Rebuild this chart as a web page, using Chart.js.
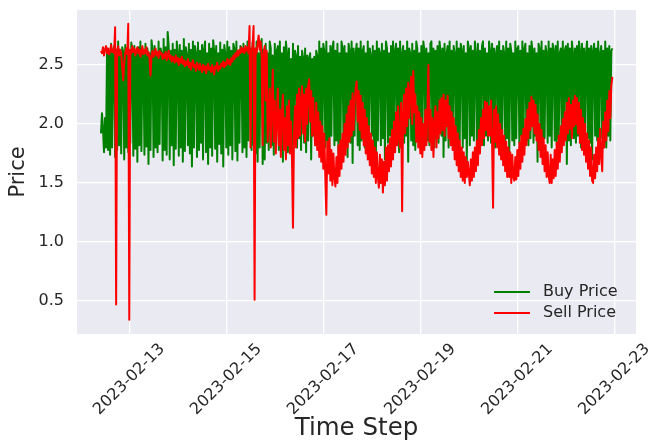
<!DOCTYPE html>
<html>
<head>
<meta charset="utf-8">
<script src="https://cdn.jsdelivr.net/npm/chart.js@4.4.1/dist/chart.umd.min.js"></script>
<style>
  html, body { margin: 0; background: #fff; }
  #stage { width: 652px; height: 441px; }
</style>
</head>
<body>
<div id="stage"><canvas id="chart"></canvas></div>
<script>
// half-hourly samples starting at firstStep
const firstStep = '2023-02-12T10:00:00Z';
const stepMinutes = 30;
const buyPrice = [
  1.92, 2.09, 1.95, 1.76, 2.05, 1.80, 2.64, 1.78, 2.62, 1.74, 2.68, 1.80,
  2.60, 2.66, 1.72, 2.63, 1.78, 2.70, 1.82, 2.58, 1.75, 2.65, 2.61, 1.70,
  2.67, 1.80, 2.64, 1.76, 2.60, 1.84, 2.69, 2.62, 1.73, 2.66, 1.79, 2.61,
  1.68, 2.65, 1.82, 2.70, 1.77, 2.63, 2.58, 1.74, 2.68, 1.81, 2.64, 1.66,
  2.60, 1.78, 2.71, 2.62, 1.72, 2.66, 1.80, 2.59, 1.76, 2.70, 1.83, 2.64,
  2.60, 1.69, 2.72, 1.78, 2.65, 1.74, 2.78, 2.66, 1.70, 2.62, 1.82, 2.68,
  1.65, 2.63, 1.79, 2.70, 2.60, 1.73, 2.67, 1.80, 2.62, 1.68, 2.72, 1.77,
  2.65, 2.59, 1.82, 2.68, 1.75, 2.63, 1.64, 2.70, 1.80, 2.66, 2.60, 1.72,
  2.69, 1.78, 2.62, 1.84, 2.67, 1.70, 2.63, 2.70, 1.76, 2.60, 1.66, 2.68,
  1.80, 2.64, 1.73, 2.71, 2.62, 1.79, 2.66, 1.68, 2.60, 1.83, 2.69, 1.75,
  2.63, 1.64, 2.67, 2.60, 1.80, 2.70, 1.74, 2.65, 1.82, 2.62, 1.70, 2.68,
  2.64, 1.77, 2.70, 1.69, 2.61, 1.84, 2.66, 2.60, 1.76, 2.68, 1.80, 2.63,
  1.72, 2.70, 1.86, 2.65, 2.62, 1.78, 2.69, 1.82, 2.64, 1.75, 2.70, 1.68,
  2.60, 1.80, 2.66, 2.72, 1.66, 2.63, 1.70, 2.68, 1.84, 2.60, 1.78, 2.70,
  2.64, 1.82, 2.58, 1.74, 2.68, 1.86, 2.62, 2.66, 1.78, 2.70, 1.80, 2.60,
  1.68, 2.65, 1.84, 2.70, 2.60, 1.76, 2.64, 1.82, 2.55, 1.70, 2.68, 1.85,
  2.62, 2.58, 1.80, 2.66, 1.88, 2.57, 1.78, 2.62, 2.56, 1.84, 2.64, 1.76,
  2.58, 1.86, 2.56, 2.60, 1.70, 2.55, 1.90, 2.57, 1.82, 2.62, 2.58, 1.78,
  2.70, 1.84, 2.64, 1.70, 2.68, 2.62, 1.80, 2.70, 1.86, 2.60, 1.78, 2.66,
  1.90, 2.64, 2.70, 1.82, 2.62, 1.86, 2.68, 1.76, 2.60, 1.84, 2.70, 2.64,
  1.80, 2.66, 1.88, 2.60, 1.72, 2.68, 2.62, 1.84, 2.70, 1.67, 2.64, 1.90,
  2.60, 2.68, 1.82, 2.64, 1.78, 2.70, 1.86, 2.62, 2.66, 1.80, 2.60, 1.88,
  2.70, 1.84, 2.64, 2.58, 1.90, 2.66, 1.80, 2.62, 1.68, 2.70, 1.86, 2.64,
  2.60, 1.82, 2.68, 1.88, 2.62, 1.70, 2.70, 2.64, 1.84, 2.60, 1.90, 2.66,
  1.80, 2.70, 1.86, 2.62, 2.68, 1.82, 2.64, 1.76, 2.70, 1.88, 2.60, 2.66,
  1.84, 2.62, 1.90, 2.70, 1.68, 2.64, 2.60, 1.86, 2.68, 1.82, 2.62, 1.78,
  2.70, 2.64, 1.88, 2.60, 1.84, 2.66, 1.80, 2.70, 2.62, 1.90, 2.64, 1.86,
  2.60, 1.82, 2.68, 2.70, 1.86, 2.64, 1.80, 2.62, 1.88, 2.66, 1.84, 2.70,
  2.62, 1.90, 2.64, 1.72, 2.68, 1.86, 2.60, 2.66, 1.80, 2.70, 1.88, 2.62,
  1.84, 2.66, 2.60, 1.90, 2.70, 1.82, 2.64, 1.86, 2.68, 2.62, 1.80, 2.66,
  1.88, 2.60, 1.66, 2.70, 2.64, 1.82, 2.66, 1.90, 2.62, 1.86, 2.70, 2.60,
  1.80, 2.68, 1.88, 2.62, 1.84, 2.66, 2.70, 1.82, 2.64, 1.90, 2.60, 1.86,
  2.70, 2.62, 1.84, 2.68, 1.88, 2.64, 1.80, 2.60, 2.66, 1.86, 2.70, 1.82,
  2.62, 1.90, 2.66, 2.60, 1.84, 2.70, 1.88, 2.64, 1.70, 2.68, 2.62, 1.86,
  2.60, 1.82, 2.70, 1.88, 2.64, 2.66, 1.84, 2.62, 1.90, 2.70, 1.80, 2.64,
  2.68, 1.86, 2.60, 1.82, 2.66, 1.88, 2.70, 2.62, 1.84, 2.64, 1.90, 2.60,
  1.68, 2.68, 2.64, 1.86, 2.70, 1.82, 2.62, 1.88, 2.66, 2.60, 1.84, 2.70,
  1.90, 2.64, 1.80, 2.68, 2.62, 1.86, 2.66, 1.82, 2.70, 1.88, 2.60, 2.64,
  1.84, 2.70, 1.90, 2.62, 2.66, 1.66, 2.68, 1.86, 2.64, 1.82, 2.70, 2.60,
  1.88, 2.64, 1.84, 2.66, 1.90, 2.70, 2.62, 1.80, 2.68, 1.86, 2.64, 1.82,
  2.60, 2.70, 1.88, 2.64, 1.84, 2.66, 1.70, 2.62, 2.68, 1.90, 2.64, 1.86,
  2.70, 1.82, 2.60, 2.66, 1.88, 2.62, 1.84, 2.70, 1.80, 2.64, 1.90, 2.66,
  1.86, 2.62, 2.64,
];
const sellPrice = [
  2.62, 2.60, 2.65, 2.58, 2.63, 2.66, 2.60, 2.64, 2.59, 2.62, 2.67, 2.61,
  2.63, 2.60, 2.82, 0.47, 2.62, 2.66, 2.58, 2.63, 2.60, 2.48, 2.37, 2.52,
  2.60, 2.64, 2.59, 2.85, 0.34, 2.63, 2.60, 2.66, 2.61, 2.64, 2.58, 2.62,
  2.65, 2.60, 2.63, 2.57, 2.62, 2.66, 2.59, 2.63, 2.60, 2.65, 2.58, 2.61,
  2.56, 2.41, 2.58, 2.62, 2.57, 2.60, 2.64, 2.58, 2.61, 2.56, 2.62, 2.59,
  2.60, 2.55, 2.59, 2.56, 2.61, 2.54, 2.58, 2.62, 2.55, 2.58, 2.53, 2.57,
  2.55, 2.52, 2.58, 2.53, 2.56, 2.50, 2.55, 2.52, 2.57, 2.51, 2.54, 2.49,
  2.53, 2.50, 2.55, 2.48, 2.52, 2.46, 2.51, 2.54, 2.48, 2.50, 2.45, 2.52,
  2.49, 2.46, 2.51, 2.47, 2.44, 2.50, 2.46, 2.49, 2.43, 2.48, 2.51, 2.46,
  2.48, 2.44, 2.50, 2.46, 2.42, 2.49, 2.47, 2.52, 2.45, 2.49, 2.47, 2.51,
  2.49, 2.53, 2.48, 2.52, 2.50, 2.55, 2.51, 2.54, 2.50, 2.56, 2.53, 2.58,
  2.55, 2.60, 2.57, 2.62, 2.58, 2.63, 2.60, 2.65, 2.61, 2.64, 2.60, 2.66,
  2.62, 2.65, 2.60, 2.83, 1.80, 2.62, 2.66, 2.83, 0.51, 2.64, 2.60, 2.68,
  2.75, 2.63, 2.70, 2.58, 1.82, 2.60, 2.66, 2.20, 2.62, 1.85, 2.10, 2.30,
  1.80, 2.15, 2.46, 1.85, 2.20, 1.75, 2.05, 2.30, 1.82, 2.12, 1.72, 2.08,
  2.25, 1.78, 2.05, 1.70, 2.15, 1.82, 2.20, 1.75, 2.02, 1.72, 1.12, 1.90,
  2.15, 1.80, 2.25, 1.88, 2.30, 1.90, 2.18, 2.32, 1.92, 2.25, 1.85, 2.30,
  2.00, 2.32, 2.38, 2.02, 2.28, 1.90, 2.22, 1.95, 1.82, 2.18, 1.78, 2.10,
  1.72, 2.02, 1.68, 1.98, 1.62, 1.92, 1.55, 1.23, 1.85, 1.58, 1.88, 1.52,
  1.78, 1.48, 1.75, 1.55, 1.47, 1.72, 1.50, 1.82, 1.56, 1.86, 1.62, 1.92,
  1.68, 2.00, 1.74, 2.08, 1.80, 2.15, 1.85, 2.20, 1.90, 2.26, 1.95, 2.18,
  2.30, 2.36, 2.02, 2.28, 1.95, 2.24, 1.88, 2.18, 1.82, 2.12, 1.75, 2.05,
  1.70, 1.98, 1.65, 1.92, 1.58, 1.86, 1.55, 1.80, 1.50, 1.76, 1.55, 1.46,
  1.74, 1.50, 1.70, 1.42, 1.68, 1.48, 1.80, 1.52, 1.82, 1.60, 1.88, 1.64,
  1.95, 1.70, 2.02, 1.76, 2.10, 1.82, 2.15, 1.88, 1.80, 2.18, 1.26, 2.08,
  2.25, 1.92, 2.30, 1.98, 2.35, 2.05, 2.28, 2.40, 2.00, 2.45, 2.10, 2.25,
  1.85, 2.15, 1.80, 2.10, 1.75, 2.05, 1.72, 2.00, 1.78, 2.12, 1.82, 2.08,
  2.50, 1.85, 2.12, 1.78, 2.05, 1.72, 2.00, 2.15, 1.80, 2.10, 1.88, 2.20,
  1.92, 2.22, 1.95, 2.25, 1.90, 2.20, 1.98, 2.24, 1.88, 2.15, 1.82, 2.10,
  1.78, 2.05, 1.70, 1.98, 1.65, 1.92, 1.60, 1.86, 1.55, 1.80, 1.52, 1.76,
  1.50, 1.72, 1.55, 1.68, 1.58, 1.48, 1.70, 1.52, 1.76, 1.55, 1.80, 1.60,
  1.86, 1.65, 1.95, 1.75, 2.05, 1.82, 2.12, 1.88, 2.19, 1.95, 2.18, 1.90,
  2.15, 1.90, 2.20, 1.85, 1.29, 2.12, 1.85, 2.15, 1.80, 2.08, 1.74, 2.00,
  1.70, 1.95, 1.65, 1.90, 1.60, 1.85, 1.55, 1.80, 1.55, 1.76, 1.50, 1.74,
  1.55, 1.52, 1.72, 1.53, 1.78, 1.56, 1.84, 1.62, 1.90, 1.68, 1.96, 1.74,
  2.04, 1.82, 2.12, 1.88, 2.18, 1.95, 2.23, 1.98, 2.20, 1.92, 2.16, 1.86,
  2.08, 1.78, 2.00, 1.72, 1.95, 1.66, 1.88, 1.60, 1.82, 1.55, 1.76, 1.56,
  1.50, 1.74, 1.50, 1.70, 1.54, 1.78, 1.56, 1.84, 1.62, 1.90, 1.68, 1.98,
  1.76, 2.04, 1.82, 2.10, 1.86, 2.18, 1.92, 2.22, 1.96, 2.16, 1.88, 2.20,
  1.98, 2.24, 2.00, 2.22, 1.92, 2.18, 1.84, 2.12, 1.78, 2.05, 1.74, 2.00,
  1.68, 1.92, 1.62, 1.86, 1.56, 1.80, 1.52, 1.50, 1.74, 1.54, 1.80, 1.60,
  1.88, 1.66, 1.96, 1.74, 1.60, 2.02, 1.80, 2.10, 1.86, 2.20, 1.94, 2.28,
  2.05, 2.32, 2.40,
];
const dateTicks = ['2023-02-13', '2023-02-15', '2023-02-17', '2023-02-19', '2023-02-21', '2023-02-23'];
const priceTicks = [0.5, 1.0, 1.5, 2.0, 2.5];
const timeRange = ['2023-02-11T22:08:00Z', '2023-02-23T10:43:00Z'];
const priceRange = [0.22, 2.966];

const ink = '#262626';
const family = "'DejaVu Sans', sans-serif";
const t0 = Date.parse(firstStep);
const points = (values) => values.map((y, i) => ({ x: t0 + i * stepMinutes * 60000, y }));
const tickValues = dateTicks.map((d) => Date.parse(d + 'T00:00:00Z'));

// seaborn-ish panel background
const panel = {
  id: 'panel',
  beforeDraw(chart) {
    const { ctx, chartArea: a } = chart;
    ctx.save();
    ctx.fillStyle = '#eaeaf2';
    ctx.fillRect(a.left, a.top, a.right - a.left, a.bottom - a.top);
    ctx.restore();
  },
};

// rotated date labels centred on their ticks (matplotlib style)
const dateLabels = {
  id: 'dateLabels',
  afterDraw(chart) {
    const { ctx, chartArea: a } = chart;
    const scale = chart.scales.x;
    ctx.save();
    ctx.font = `16px ${family}`;
    ctx.fillStyle = ink;
    ctx.textAlign = 'center';
    ctx.textBaseline = 'middle';
    scale.ticks.forEach((tick) => {
      ctx.save();
      ctx.translate(scale.getPixelForValue(tick.value), a.bottom + 45.5);
      ctx.rotate(-Math.PI / 4);
      ctx.fillText(new Date(tick.value).toISOString().slice(0, 10), 0, 0);
      ctx.restore();
    });
    ctx.restore();
  },
};

const cornerLegend = {
  id: 'cornerLegend',
  afterDraw(chart) {
    const { ctx, chartArea: a } = chart;
    ctx.save();
    ctx.font = `16px ${family}`;
    ctx.textBaseline = 'middle';
    chart.data.datasets.forEach((ds, i) => {
      const y = a.bottom - 42 + i * 21;
      ctx.strokeStyle = ds.borderColor;
      ctx.lineWidth = 2;
      ctx.beginPath();
      ctx.moveTo(a.right - 142, y);
      ctx.lineTo(a.right - 106, y);
      ctx.stroke();
      ctx.fillStyle = ink;
      ctx.fillText(ds.label, a.right - 93, y);
    });
    ctx.restore();
  },
};

new Chart(document.getElementById('chart'), {
  type: 'line',
  data: {
    datasets: [
      { label: 'Buy Price', data: points(buyPrice), borderColor: '#008000', order: 2 },
      { label: 'Sell Price', data: points(sellPrice), borderColor: '#ff0000', order: 1 },
    ],
  },
  options: {
    responsive: true,
    maintainAspectRatio: false,
    animation: false,
    devicePixelRatio: 1,
    layout: { padding: { top: 10, right: 16, left: 0, bottom: 0 } },
    elements: {
      line: { borderWidth: 2, tension: 0, fill: false, borderJoinStyle: 'round' },
      point: { radius: 0, hoverRadius: 0 },
    },
    plugins: { legend: { display: false }, tooltip: { enabled: false } },
    scales: {
      x: {
        type: 'linear',
        min: Date.parse(timeRange[0]),
        max: Date.parse(timeRange[1]),
        afterBuildTicks: (scale) => { scale.ticks = tickValues.map((value) => ({ value })); },
        afterFit: (scale) => { scale.height = 107; scale.paddingLeft = 0; scale.paddingRight = 0; },
        grid: { color: '#ffffff', lineWidth: 1.3, drawTicks: false },
        border: { display: false },
        ticks: { display: false },
        title: { display: true, text: 'Time Step', color: ink, padding: 0, font: { family, size: 24.5, lineHeight: 1 } },
      },
      y: {
        min: priceRange[0],
        max: priceRange[1],
        afterBuildTicks: (scale) => { scale.ticks = priceTicks.map((value) => ({ value })); },
        afterFit: (scale) => { scale.width = 77; scale.paddingTop = 0; scale.paddingBottom = 0; },
        grid: { color: '#ffffff', lineWidth: 1.3, drawTicks: false },
        border: { display: false },
        ticks: { color: ink, padding: 13, font: { family, size: 16 }, callback: (v) => v.toFixed(1) },
        title: { display: true, text: 'Price', color: ink, padding: { top: 6 }, font: { family, size: 21 } },
      },
    },
  },
  plugins: [panel, dateLabels, cornerLegend],
});
</script>
</body>
</html>
